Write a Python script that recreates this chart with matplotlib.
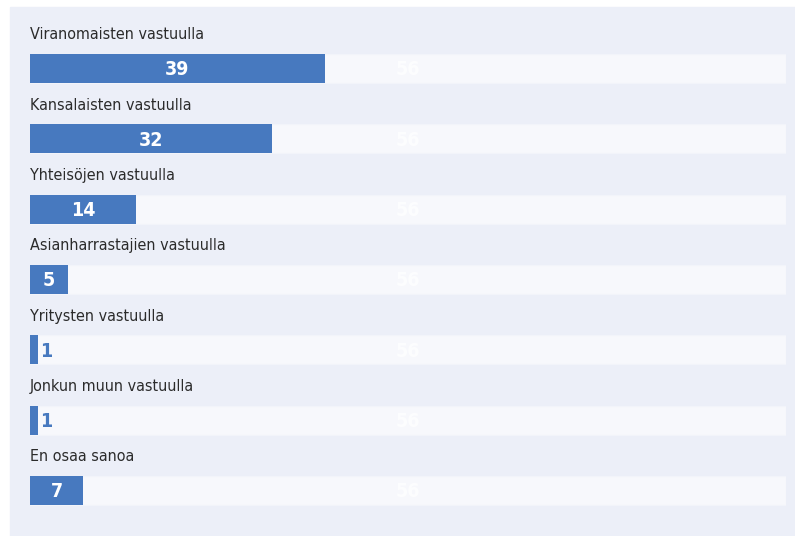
import matplotlib
matplotlib.use("Agg")
import matplotlib.pyplot as plt
from matplotlib.patches import Rectangle
from matplotlib import font_manager

categories = ["Viranomaisten vastuulla", "Kansalaisten vastuulla", "Yhteisöjen vastuulla",
              "Asianharrastajien vastuulla", "Yritysten vastuulla", "Jonkun muun vastuulla",
              "En osaa sanoa"]
values = [39, 32, 14, 5, 1, 1, 7]
track_max = 100
ghost_label = "56"

# a narrow face if one exists, else Roboto
fonts = font_manager.fontManager.ttflist
if any(f.name == "Liberation Sans Narrow" for f in fonts):
    fam, stretch = "Liberation Sans Narrow", "normal"
elif any(f.name == "DejaVu Sans" and f.stretch == "condensed" for f in fonts):
    fam, stretch = "DejaVu Sans", "condensed"
else:
    fam, stretch = "Roboto", "normal"
plt.rcParams["font.family"] = [fam, "DejaVu Sans"]
plt.rcParams["font.stretch"] = stretch

W, H = 795, 536
fig = plt.figure(figsize=(W / 100, H / 100), dpi=100, facecolor="white")
fig.patches.append(Rectangle((10 / W, 0), (W - 10) / W, (H - 7) / H,
                             transform=fig.transFigure, color="#eceff8", zorder=-5))

x0, x1 = 30, 786
row0, step = 68.5, 70.33
ax = fig.add_axes([x0 / W, 0, (x1 - x0) / W, 1])
ax.set_zorder(2)
ax.set_xlim(0, track_max)
ax.set_ylim((H - row0) / step, -row0 / step)
ax.axis("off")
ax.patch.set_alpha(0)

bar_h = 29 / step
rows = range(len(categories))
ax.barh(rows, [track_max] * len(values), height=bar_h, color="#f7f8fc",
        edgecolor="#f2f4fa", linewidth=0.8)
ax.barh(rows, values, height=bar_h, color="#4779bf")

lab_size = 11.5 if fam != "Roboto" else 11
for i, (cat, v) in enumerate(zip(categories, values)):
    ax.text(0, i - 0.48, cat, ha="left", va="center", fontsize=lab_size,
            color="#2b2b2b")
    if v >= 3:
        ax.text(v / 2, i + 0.02, str(v), ha="center", va="center", fontsize=14,
                fontweight="bold", color="white")
    else:
        ax.text(v + 0.3, i + 0.02, str(v), ha="left", va="center", fontsize=14,
                fontweight="bold", color="#4779bf")
    ax.text(track_max / 2, i + 0.02, ghost_label, ha="center", va="center",
            fontsize=14, fontweight="bold", color="white", alpha=0.75)

fig.savefig("out.png", dpi=100, facecolor="white")
